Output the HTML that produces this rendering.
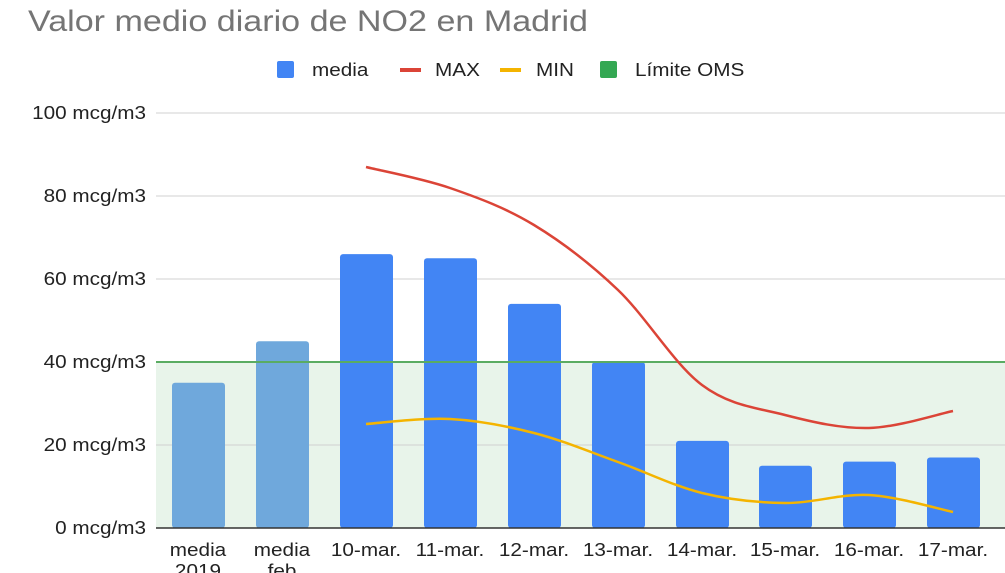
<!DOCTYPE html>
<html><head><meta charset="utf-8"><style>
html,body{margin:0;padding:0;background:#fff;width:1005px;height:573px;overflow:hidden}
svg text{font-family:"Liberation Sans",sans-serif}
</style></head><body>
<svg id="s" width="1005" height="573" xmlns="http://www.w3.org/2000/svg">
<text x="28" y="31" font-size="30" fill="#757575" textLength="560" lengthAdjust="spacingAndGlyphs">Valor medio diario de NO2 en Madrid</text>
<rect x="277" y="61" width="17" height="17" fill="#4285f4" rx="2"/>
<text class="s" x="312" y="76" font-size="18" fill="#222">media</text>
<rect x="400" y="68" width="21" height="4" fill="#db4437"/>
<text class="s" x="435" y="76" font-size="18" fill="#222">MAX</text>
<rect x="500" y="68" width="21" height="4" fill="#f4b400"/>
<text class="s" x="536" y="76" font-size="18" fill="#222">MIN</text>
<rect x="600" y="61" width="17" height="17" fill="#34a853" rx="2"/>
<text class="s" x="635" y="76" font-size="18" fill="#222">Límite OMS</text>
<rect x="156" y="362" width="849" height="166" fill="#e8f4ea"/>
<g stroke="#d0d0d0" stroke-width="1">
<line x1="156" x2="1005" y1="113" y2="113"/><line x1="156" x2="1005" y1="196" y2="196"/>
<line x1="156" x2="1005" y1="279" y2="279"/><line x1="156" x2="1005" y1="445" y2="445"/>
</g>
<g font-size="18" fill="#222" text-anchor="end">
<text class="s" x="146" y="119">100 mcg/m3</text><text class="s" x="146" y="202">80 mcg/m3</text>
<text class="s" x="146" y="285">60 mcg/m3</text><text class="s" x="146" y="368">40 mcg/m3</text>
<text class="s" x="146" y="451">20 mcg/m3</text><text class="s" x="146" y="534">0 mcg/m3</text>
</g>
<g id="bars"></g>
<line x1="156" x2="1005" y1="362" y2="362" stroke="#5aac62" stroke-width="2"/>
<line x1="156" x2="1005" y1="528" y2="528" stroke="#333" stroke-width="1.5"/>
<path id="mx" fill="none" stroke="#db4437" stroke-width="2.5"/>
<path id="mn" fill="none" stroke="#f4b400" stroke-width="2.5"/>
<g id="lbl" font-size="18" fill="#222" text-anchor="middle"></g>
</svg>
<script>
var cx=[198,282,366,450,534,618,702,785,869,953],vals=[35,45,66,65,54,40,21,15,16,17];
var names=[["media","2019"],["media","feb"],["10-mar."],["11-mar."],["12-mar."],["13-mar."],["14-mar."],["15-mar."],["16-mar."],["17-mar."]];
var b='',l='';
for(var i=0;i<10;i++){var y=528-4.15*vals[i];
b+='<rect x="'+(cx[i]-26)+'" y="'+y+'" width="53" height="'+(528-y)+'" rx="3" fill="'+(i<2?'#6fa8dc':'#4285f4')+'"/>';
names[i].forEach(function(t,k){l+='<text class="s" x="'+cx[i]+'" y="'+(556+k*21)+'">'+t+'</text>';});}
document.getElementById('bars').innerHTML=b;document.getElementById('lbl').innerHTML=l;
function cr(p){var d='M'+p[0][0]+','+p[0][1];for(var i=0;i<p.length-1;i++){var p0=p[i-1]||p[i],p1=p[i],p2=p[i+1],p3=p[i+2]||p2;
d+=' C'+(p1[0]+(p2[0]-p0[0])/6)+','+(p1[1]+(p2[1]-p0[1])/6)+' '+(p2[0]-(p3[0]-p1[0])/6)+','+(p2[1]-(p3[1]-p1[1])/6)+' '+p2[0]+','+p2[1];}return d;}
var mx=[167,188,225,290,385,415,428,411],mn=[424,419,433,462,493,503,495,512];
document.getElementById('mx').setAttribute('d',cr(mx.map(function(y,i){return[cx[i+2],y]})));
document.getElementById('mn').setAttribute('d',cr(mn.map(function(y,i){return[cx[i+2],y]})));
document.querySelectorAll('text.s').forEach(function(t){var w=t.getComputedTextLength();t.setAttribute('textLength',(w*1.15).toFixed(1));t.setAttribute('lengthAdjust','spacingAndGlyphs');});
</script>
</body></html>
